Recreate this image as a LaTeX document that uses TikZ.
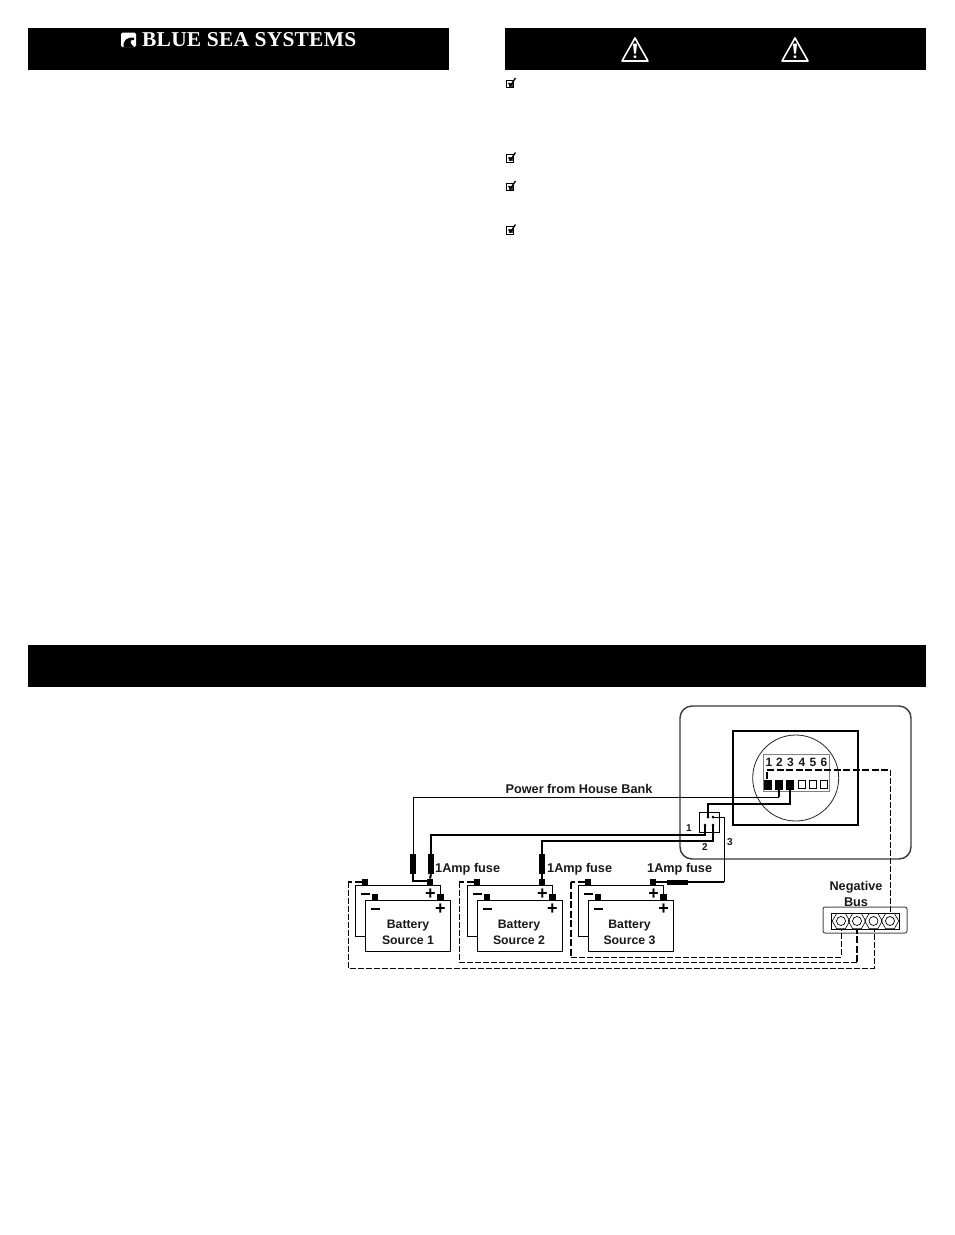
\documentclass[tikz,border=0pt]{standalone}
\usepackage{fontspec}
\usepackage{graphicx}
\setmainfont{Liberation Sans}
\newfontfamily\logofont[LetterSpace=1.0]{Liberation Serif}
\usetikzlibrary{shapes.geometric}
\tikzset{
  x=1pt,y=-1pt,
  hdr/.style={fill=black,draw=none,inner sep=0pt},
  batt/.style={draw=black,fill=white,line width=1pt,inner sep=0pt,minimum width=85pt,minimum height=51pt},
  term/.style={fill=black,draw=none,inner sep=0pt,minimum size=6.5pt},
  pin/.style={fill=black,draw=none,inner sep=0pt,minimum width=8pt,minimum height=10pt},
  pinw/.style={fill=white,draw=black,line width=.8pt,inner sep=0pt,minimum width=7pt,minimum height=8.5pt},
  dotn/.style={fill=black,draw=none,circle,inner sep=0pt,minimum size=3pt},
  fusev/.style={fill=black,draw=none,inner sep=0pt,minimum width=6pt,minimum height=20pt},
  fuseh/.style={fill=black,draw=none,inner sep=0pt,minimum width=21pt,minimum height=5pt},
  lbl/.style={inner sep=0pt,font=\fontsize{12.7}{16}\selectfont\bfseries,text=black!90},
  lblb/.style={inner sep=0pt,font=\fontsize{12.3}{16}\selectfont\bfseries,text=black!90},
  lbld/.style={inner sep=0pt,font=\fontsize{12}{16}\selectfont\bfseries,text=black!90},
  lbls/.style={inner sep=0pt,font=\fontsize{10}{11}\selectfont\bfseries,text=black!90},
  sgn/.style={inner sep=0pt,font=\fontsize{18}{18}\selectfont\bfseries},
  minusn/.style={fill=black,draw=none,inner sep=0pt,minimum width=9pt,minimum height=2.4pt},
  wthin/.style={draw=black,line width=1pt},
  wthick/.style={draw=black,line width=2pt},
  dthin/.style={draw=black,line width=1pt,dash pattern=on 6pt off 2pt},
  dthick/.style={draw=black,line width=2pt,dash pattern=on 7pt off 2.5pt},
  hexn/.style={draw=black,line width=.6pt,regular polygon,regular polygon sides=6,inner sep=0pt,minimum size=17.5pt,shape border rotate=0},
  holen/.style={draw=black,line width=.7pt,circle,inner sep=0pt,minimum size=9pt},
  warn/.pic={
    \draw[white,line width=1.6pt,line join=round] (-13,11.5) -- (0,-11.5) -- (13,11.5) -- cycle;
    \fill[white] (-2,-6) -- (2,-6) -- (1,4) -- (-1,4) -- cycle;
    \fill[white] (0,7.2) circle (1.6);
  },
  chk/.pic={
    \draw[black,line width=1pt] (-5,-3.5) rectangle (2.5,4);
    \fill[black!75] (-2.5,-1) rectangle (1.5,3);
    \draw[black,line width=1.3pt] (-2.5,-.5) -- (-.5,2) -- (4.5,-5.5);
  }
}
\begin{document}
\begin{tikzpicture}
\useasboundingbox (0,0) rectangle (954,1235);
\fill[white] (0,0) rectangle (954,1235);

% header bars
\node[hdr,minimum width=421pt,minimum height=42pt] (hdrA) at (238.5,49) {};
\node[hdr,minimum width=421pt,minimum height=42pt] (hdrB) at (715.5,49) {};
\node[hdr,minimum width=898pt,minimum height=42pt] (hdrC) at (477,666) {};

% logo
\fill[white,rounded corners=1.5pt] (121,32.5) rectangle (136,47);
\fill[black] (123.5,47) .. controls (123,40) and (127,37) .. (134,37.5) -- (134,40) .. controls (130,39.5) and (128.5,42) .. (134,47) -- cycle;
\node[anchor=west,inner sep=0pt,text=white] (logo) at (142,40)
  {\resizebox{214pt}{14pt}{\logofont\fontsize{20}{20}\selectfont\bfseries BLUE SEA SYSTEMS}};

% warning triangles
\pic at (635,49.5) {warn};
\pic at (795,49.5) {warn};

% check boxes
\pic at (511,83.5) {chk};
\pic at (511,158) {chk};
\pic at (511,186.5) {chk};
\pic at (511,230) {chk};

% panel
\node[draw=black!78,line width=1.4pt,rounded corners=12pt,inner sep=0pt,minimum width=231pt,minimum height=153pt] (panel) at (795.5,782.5) {};
\node[draw=black,line width=1.8pt,inner sep=0pt,minimum width=125pt,minimum height=94pt] (meter) at (795.5,778) {};
\node[draw=black!85,line width=.8pt,circle,inner sep=0pt,minimum size=86pt] (dial) at (795.7,778) {};
\node[draw=black!50,line width=1pt,inner sep=0pt,minimum width=66pt,minimum height=37pt] (block) at (796,772.5) {};

% terminal block labels and pins
\foreach \n/\xx in {1/769,2/779.5,3/790.5,4/802,5/813,6/824}
  \node[lbld] (num\n) at (\xx,762) {\n};
\node[pin] (p1) at (768,784.5) {};
\node[pin] (p2) at (779,784.5) {};
\node[pin] (p3) at (790,784.5) {};
\node[pinw] (p4) at (801.5,784.5) {};
\node[pinw] (p5) at (813,784.5) {};
\node[pinw] (p6) at (824,784.5) {};

% small connector
\node[draw=black,line width=.8pt,inner sep=0pt,minimum size=20pt] (conn) at (709,822) {};
\node[dotn] (ct1) at (708,817) {};
\node[dotn] (ct2) at (713,817) {};
\node[dotn] (cb1) at (705,825) {};
\node[dotn] (cb2) at (713,825) {};
\node[lbls] (c1) at (689,828.5) {1};
\node[lbls] (c2) at (705,847) {2};
\node[lbls] (c3) at (730,842) {3};

% batteries
\foreach \k/\dx/\tx in {1/0/408,2/112/519,3/223/629.5}{
  \node[batt] (back\k) at (398+\dx,911) {};
  \node[term] (bn\k) at (365+\dx,882) {};
  \node[term] (bp\k) at (430+\dx,882) {};
  \node[minusn] (bms\k) at (365+\dx,894) {};
  \node[sgn] (bps\k) at (430.5+\dx,894.5) {+};
  \node[batt] (front\k) at (407.5+\dx,925.5) {};
  \node[term] (fn\k) at (375+\dx,897) {};
  \node[term] (fp\k) at (440.5+\dx,897) {};
  \node[minusn] (fms\k) at (375+\dx,909) {};
  \node[sgn] (fps\k) at (440.5+\dx,909.5) {+};
  \node[lblb,align=center] (bt\k) at (\tx,932.5) {Battery\\Source \k};
}

% fuses
\node[fusev] (fa) at (413,864) {};
\node[fusev] (fb) at (431,864) {};
\node[fusev] (fc) at (542,864) {};
\node[fuseh] (fd) at (677.5,882) {};

% text labels
\node[lbl] (house) at (579,788.5) {Power from House Bank};
\node[lbl,anchor=west] (amp1) at (435,869.5) {1Amp fuse};
\node[lbl,anchor=west] (amp2) at (547,869.5) {1Amp fuse};
\node[lbl,anchor=west] (amp3) at (647,869.5) {1Amp fuse};
\node[lbl,align=center] (negl) at (856,893.5) {Negative\\Bus};

% negative bus
\node[draw=black!70,line width=1pt,rounded corners=2pt,inner sep=0pt,minimum width=84pt,minimum height=26pt] (bus) at (865,920) {};
\node[draw=black,line width=.8pt,inner sep=0pt,minimum width=68pt,minimum height=16pt] (busin) at (865,921) {};
\foreach \k/\xx in {1/841,2/857,3/873.5,4/890}{
  \node[hexn] (hex\k) at (\xx,921) {};
  \node[holen] (hole\k) at (\xx,921) {};
}

% solid wires
\coordinate (hA) at (413,797);
\draw[wthin] (fa.north) -- (hA) -- (p2 |- hA);
\draw[wthick] (p2.south) -- (p2 |- hA);
\coordinate (w1) at (431,835);
\coordinate (w1b) at (705,835);
\draw[wthick] (fb.north) -- (w1) -- (w1b) -- (cb1.center);
\coordinate (w2) at (542,841);
\coordinate (w2b) at (713,841);
\draw[wthick] (fc.north) -- (w2) -- (w2b) -- (cb2.center);
\coordinate (w3) at (790,804);
\coordinate (w3b) at (708,804);
\draw[wthick] (p3.south) -- (w3) -- (w3b) -- (ct1.center);
\coordinate (w4) at (724,817);
\coordinate (w4b) at (724,882);
\draw[wthin] (ct2.center) -- (w4) -- (w4b);
\draw[wthick] (w4b) -- (fd.east);
\draw[wthick] (fd.west) -- (bp3.east);
\draw[wthick] (fb.south) -- (bp1.north);
\coordinate (fa2) at (413,880.5);
\draw[wthick] (fa.south) -- (fa2) -- (bp1.west |- fa2);
\draw[wthick] (fc.south) -- (bp2.north);

% dashed returns
\coordinate (n1) at (767,770);
\coordinate (n2) at (890,770);
\draw[dthick] (p1.north -| n1) -- (n1) -- (n2);
\draw[dthin] (n2) -- (hex4.north -| n2);
\coordinate (d1a) at (348,882);
\coordinate (d1b) at (348,968);
\coordinate (d1c) at (874,968);
\draw[dthick] (bn1.west) -- (d1a);
\draw[dthin] (d1a) -- (d1b) -- (d1c) -- (hex3.south -| d1c);
\coordinate (d2a) at (459,882);
\coordinate (d2b) at (459,962);
\coordinate (d2c) at (857,962);
\draw[dthick] (bn2.west) -- (d2a);
\draw[dthin] (d2a) -- (d2b) -- (d2c);
\draw[dthick] (d2c) -- (hex2.south);
\coordinate (d3a) at (571,882);
\coordinate (d3b) at (571,957);
\coordinate (d3c) at (841,957);
\draw[dthick] (bn3.west) -- (d3a);
\draw[dthick,line width=1.5pt] (d3a) -- (d3b);
\draw[dthin] (d3b) -- (d3c) -- (hex1.south);
\end{tikzpicture}
\end{document}
